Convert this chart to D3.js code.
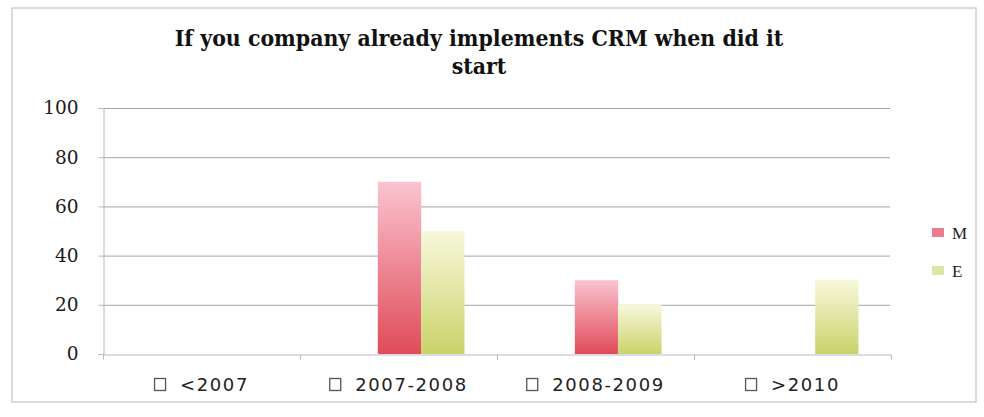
<!DOCTYPE html>
<html>
<head>
<meta charset="utf-8">
<script src="https://cdn.jsdelivr.net/npm/d3@7/dist/d3.min.js"></script>
<style>
  html, body { margin: 0; padding: 0; background: #ffffff; }
  svg { display: block; }
</style>
</head>
<body>
<svg id="chart" width="984" height="417"></svg>
<script>
// Year ranges and the share of each group that started CRM in that range
const categories = ["<2007", "2007-2008", "2008-2009", ">2010"];
const seriesNames = ["M", "E"];
const valuesM = [0, 70, 30, 0];
const valuesE = [0, 50, 20, 30];
const yTicks = [0, 20, 40, 60, 80, 100];
const titleLines = ["If you company already implements CRM when did it", "start"];

const svg = d3.select("#chart");
const plot = { left: 103, right: 891, top: 108, bottom: 354 };

const x = d3.scaleBand().domain(categories).range([plot.left, plot.right]).paddingInner(0).paddingOuter(0);
const bw = x.bandwidth();
// bar pair sits right of the band centre
const xs = d3.scaleBand().domain(seriesNames).range([bw * 0.395, bw * 0.835]).padding(0);
const y = d3.scaleLinear().domain([0, 100]).range([plot.bottom, plot.top]);

// gradients
const defs = svg.append("defs");
function vGrad(id, top, bottom) {
  const g = defs.append("linearGradient").attr("id", id)
    .attr("x1", 0).attr("y1", 0).attr("x2", 0).attr("y2", 1);
  g.append("stop").attr("offset", "0%").attr("stop-color", top);
  g.append("stop").attr("offset", "100%").attr("stop-color", bottom);
}
vGrad("gM", "#fbc3cf", "#e04b59");
vGrad("gE", "#f8f8da", "#c8d36a");
const fills = { M: "url(#gM)", E: "url(#gE)" };

// outer frame
svg.append("rect").attr("x", 12).attr("y", 8).attr("width", 964).attr("height", 394)
  .attr("fill", "none").attr("stroke", "#cfcfcf").attr("stroke-width", 1.5);

// title
svg.append("g").selectAll("text").data(titleLines).join("text")
  .attr("x", 479).attr("y", (d, i) => 46 + i * 28)
  .attr("text-anchor", "middle")
  .attr("font-family", "DejaVu Serif Condensed, DejaVu Serif, serif")
  .attr("font-stretch", "condensed")
  .attr("font-weight", "bold").attr("font-size", 22.8).attr("fill", "#111")
  .text(d => d);

// gridlines
svg.append("g").selectAll("line").data(yTicks.filter(t => t > 0)).join("line")
  .attr("x1", plot.left).attr("x2", plot.right - 1)
  .attr("y1", d => y(d) + 0.5).attr("y2", d => y(d) + 0.5)
  .attr("stroke", "#a4a4a4").attr("stroke-width", 1);

// y axis
const yAxis = d3.axisLeft(y).tickValues(yTicks).tickSize(5).tickPadding(20);
const gy = svg.append("g").attr("transform", `translate(${plot.left + 0.5},0)`).call(yAxis);
gy.select(".domain").attr("stroke", "#b8b8c4");
gy.selectAll(".tick line").attr("stroke", "#b8b8c4");
gy.selectAll(".tick text").attr("font-family", "DejaVu Serif, serif")
  .attr("font-size", 18.5).attr("fill", "#1a1a1a");

// bars
const rows = categories.map((c, i) => ({ c, M: valuesM[i], E: valuesE[i] }));
svg.append("g").selectAll("g").data(rows).join("g")
  .attr("transform", d => `translate(${x(d.c)},0)`)
  .selectAll("rect").data(d => seriesNames.map(s => ({ s, v: d[s] })).filter(e => e.v > 0)).join("rect")
  .attr("x", d => xs(d.s)).attr("width", xs.bandwidth())
  .attr("y", d => y(d.v)).attr("height", d => y(0) - y(d.v))
  .attr("fill", d => fills[d.s]);

// x axis
const xAxis = d3.axisBottom(x).tickValues([]).tickSizeOuter(0);
const gx = svg.append("g").attr("transform", `translate(0,${plot.bottom + 0.5})`).call(xAxis);
gx.select(".domain").attr("stroke", "#b8b8c4");
const boundaries = categories.map(c => x(c)).concat([plot.right]);
gx.selectAll(".btick").data(boundaries).join("line").attr("class", "btick")
  .attr("x1", d => d + 0.5).attr("x2", d => d + 0.5).attr("y1", 0).attr("y2", 5)
  .attr("stroke", "#b8b8c4");

// category labels with a box marker, centred under each band
const labels = svg.append("g").selectAll("g").data(categories).join("g");
labels.each(function (c) {
  const g = d3.select(this);
  const t = g.append("text").attr("y", 391)
    .attr("font-family", "DejaVu Sans, sans-serif").attr("font-size", 18)
    .attr("letter-spacing", 1.6).attr("fill", "#222").text(c);
  const tw = t.node().getComputedTextLength();
  const total = 12 + 14 + tw;
  const start = x(c) + bw / 2 - total / 2;
  g.append("rect").attr("x", start + 0.5).attr("y", 378.5).attr("width", 11).attr("height", 12)
    .attr("fill", "#fff").attr("stroke", "#555").attr("stroke-width", 1.3);
  t.attr("x", start + 26);
});

// series legend
const legendColors = { M: "#e97d8d", E: "#dfe5a6" };
const lg = svg.append("g").selectAll("g").data(seriesNames).join("g")
  .attr("transform", (d, i) => `translate(932,${228 + i * 38})`);
lg.append("rect").attr("width", 12).attr("height", 9).attr("fill", d => legendColors[d]);
lg.append("text").attr("x", 20).attr("y", 10.5)
  .attr("font-family", "Liberation Serif, serif").attr("font-size", 17).attr("fill", "#222")
  .text(d => d);
</script>
</body>
</html>
